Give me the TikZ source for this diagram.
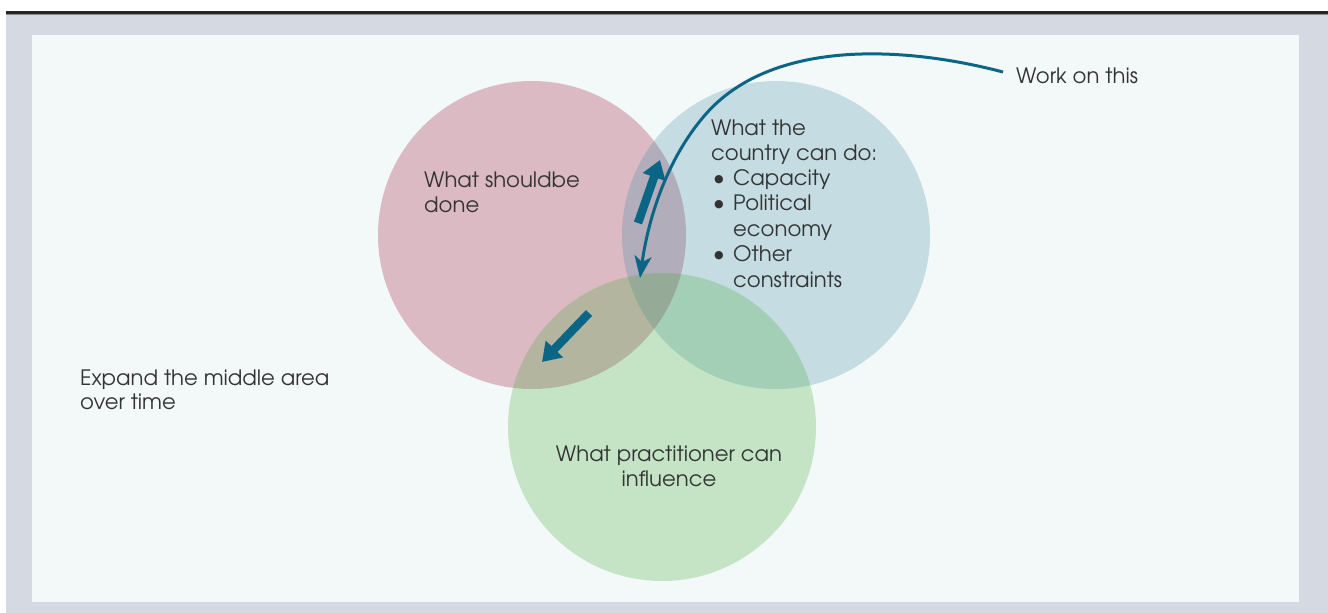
\documentclass[tikz,border=0pt]{standalone}
\usepackage{fontspec}
\setmainfont{texgyreadventor-regular.otf}
\usetikzlibrary{arrows.meta}
\definecolor{bggray}{HTML}{D5DAE2}
\definecolor{panel}{HTML}{F3F9F9}
\definecolor{cred}{HTML}{970129}
\definecolor{cblue}{HTML}{3B89A1}
\definecolor{cgreen}{HTML}{3FA931}
\definecolor{arrowblue}{HTML}{0B6584}
\definecolor{txt}{HTML}{333333}
\tikzset{
  venn/.style={fill opacity=0.25},
  lbl/.style={anchor=base west, inner sep=0pt, text=txt, font=\fontsize{21.2}{25}\selectfont},
  lblc/.style={lbl, anchor=base},
  bulnode/.style={anchor=base, inner sep=0pt, text=txt, font=\fontsize{21.2}{25}\selectfont},
  fatarrow/.style={arrowblue, line width=8.5pt, -{Triangle[length=18pt,width=23pt]}},
  thinarrow/.style={arrowblue, line width=3pt, -{Stealth[length=22pt,width=17pt,inset=6pt]}}
}
\newcommand{\bul}{\raisebox{-0.04em}{\scalebox{1.1}{•}}}
\begin{document}
\begin{tikzpicture}[x=1pt,y=-1pt]
\useasboundingbox (0,0) rectangle (1328,613);
\fill[white] (0,0) rectangle (1328,613);
\fill[bggray] (6,14) rectangle (1328,613);
\fill[black!85] (6,11) rectangle (1328,14);
\fill[black!45] (6,14) rectangle (1328,15);
\fill[panel] (32,35) rectangle (1299,602);
% circles
\fill[cred, venn] (532,235) circle[radius=154];
\fill[cblue, venn] (776,235) circle[radius=154];
\fill[cgreen, venn] (662,427) circle[radius=154];
% labels
\node[lbl] (sh1) at (424,187) {What shouldbe};
\node[lbl] (sh2) at (424,212) {done};
\node[lbl] (c1) at (711,135) {What the};
\node[lbl] (c2) at (711,160) {country can do:};
\node[bulnode] (b1) at (719,185) {\bul};
\node[lbl] (c3) at (733,185) {Capacity};
\node[bulnode] (b2) at (719,210) {\bul};
\node[lbl] (c4) at (733,210) {Political};
\node[lbl] (c5) at (733,236) {economy};
\node[bulnode] (b3) at (719,261) {\bul};
\node[lbl] (c6) at (733,261) {Other};
\node[lbl] (c7) at (733,287) {constraints};
\node[lbl] (work) at (1016,83) {Work on this};
\node[lbl] (ex1) at (80,385) {Expand the middle area};
\node[lbl] (ex2) at (80,409) {over time};
\node[lblc] (p1) at (669,461) {What practitioner can};
\node[lblc] (p2) at (669,486) {influence};
% arrows
\coordinate (a1s) at (638,223);
\coordinate (a1e) at (660,160);
\coordinate (a2s) at (589,313);
\coordinate (a2e) at (542,362);
\coordinate (ws) at (1003,72);
\coordinate (wm) at (705,115);
\coordinate (we) at (640,278);
\draw[fatarrow] (a1s) -- (a1e);
\draw[fatarrow] (a2s) -- (a2e);
\draw[thinarrow] (ws) .. controls (900,45) and (770,40) .. (wm)
   .. controls (666,160) and (648,220) .. (we);
\end{tikzpicture}
\end{document}
